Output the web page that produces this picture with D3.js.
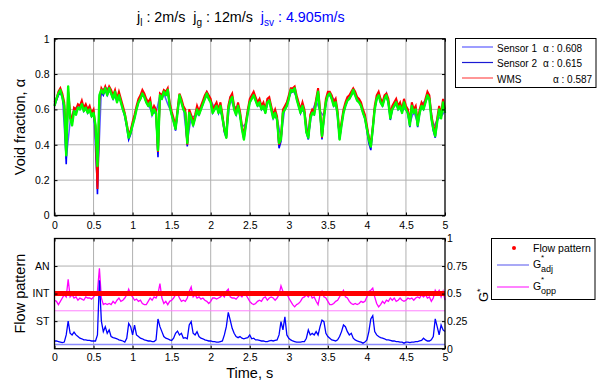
<!DOCTYPE html>
<html lang="en">
<head>
<meta charset="utf-8">
<script src="https://d3js.org/d3.v7.min.js"></script>
<style>
  body { margin: 0; background: #fff; }
  svg { display: block; font-family: "Liberation Sans", Arial, sans-serif; }
  .grid line { stroke: #b0b0b0; stroke-width: 1; }
  .axis path { display: none; }
  .axis line { stroke: #000; }
  .axis text { font-size: 10.5px; fill: #000; font-family: "Liberation Sans", Arial, sans-serif; }
</style>
</head>
<body>
<svg width="597" height="383"></svg>
<script>
// ---- data ----
const timeTicks = [0, 0.5, 1, 1.5, 2, 2.5, 3, 3.5, 4, 4.5, 5];
const voidTicks = [0, 0.2, 0.4, 0.6, 0.8, 1];
const gTicks = [0, 0.25, 0.5, 0.75, 1];
const patternNames = ["ST", "INT", "AN"];
const patternLevels = [0.25, 0.5, 0.75];

const dtFast = 0.025;   // s, sampling step of the dense traces
const dtSlow = 0.05;    // s, sampling step of sensor 1 trace

// void fraction traces
const sensor1 = [
  0.63, 0.69, 0.68, 0.32, 0.53, 0.60, 0.62, 0.61, 0.61, 0.59,
  0.59, 0.16, 0.71, 0.72, 0.72, 0.67, 0.66, 0.65, 0.57, 0.45,
  0.52, 0.61, 0.67, 0.68, 0.63, 0.58, 0.58, 0.68, 0.69, 0.63,
  0.58, 0.49, 0.68, 0.61, 0.41, 0.56, 0.56, 0.58, 0.64, 0.70,
  0.65, 0.61, 0.60, 0.56, 0.45, 0.66, 0.61, 0.62, 0.50, 0.52,
  0.65, 0.69, 0.63, 0.61, 0.59, 0.66, 0.56, 0.55, 0.44, 0.61,
  0.67, 0.71, 0.67, 0.59, 0.59, 0.45, 0.59, 0.65, 0.59, 0.56,
  0.69, 0.67, 0.65, 0.44, 0.59, 0.66, 0.69, 0.69, 0.65, 0.59,
  0.50, 0.40, 0.61, 0.69, 0.63, 0.69, 0.56, 0.63, 0.61, 0.59,
  0.61, 0.52, 0.59, 0.52, 0.63, 0.65, 0.67, 0.50, 0.54, 0.56,
  0.59
];
const sensor2 = [
  0.62, 0.65, 0.68, 0.70, 0.67, 0.61, 0.29, 0.68, 0.56, 0.52,
  0.60, 0.58, 0.61, 0.60, 0.63, 0.59, 0.61, 0.58, 0.60, 0.56,
  0.58, 0.48, 0.12, 0.65, 0.70, 0.68, 0.71, 0.68, 0.71, 0.69,
  0.66, 0.69, 0.64, 0.68, 0.64, 0.60, 0.56, 0.50, 0.43, 0.46,
  0.51, 0.55, 0.60, 0.64, 0.66, 0.69, 0.67, 0.64, 0.62, 0.64,
  0.57, 0.60, 0.57, 0.33, 0.68, 0.66, 0.69, 0.68, 0.70, 0.62,
  0.57, 0.53, 0.48, 0.58, 0.67, 0.64, 0.60, 0.58, 0.39, 0.58,
  0.55, 0.51, 0.55, 0.60, 0.57, 0.60, 0.63, 0.66, 0.68, 0.66,
  0.64, 0.58, 0.60, 0.62, 0.58, 0.62, 0.55, 0.47, 0.44, 0.60,
  0.65, 0.67, 0.60, 0.57, 0.62, 0.57, 0.49, 0.43, 0.51, 0.58,
  0.64, 0.66, 0.68, 0.65, 0.62, 0.64, 0.60, 0.62, 0.58, 0.64,
  0.65, 0.60, 0.55, 0.58, 0.54, 0.38, 0.42, 0.58, 0.60, 0.62,
  0.66, 0.70, 0.70, 0.71, 0.66, 0.62, 0.58, 0.62, 0.58, 0.47,
  0.43, 0.55, 0.58, 0.57, 0.64, 0.70, 0.58, 0.43, 0.55, 0.64,
  0.68, 0.68, 0.66, 0.62, 0.64, 0.57, 0.43, 0.51, 0.58, 0.62,
  0.65, 0.66, 0.68, 0.70, 0.68, 0.65, 0.64, 0.62, 0.58, 0.55,
  0.48, 0.41, 0.37, 0.48, 0.60, 0.66, 0.68, 0.64, 0.62, 0.66,
  0.67, 0.64, 0.54, 0.60, 0.62, 0.64, 0.60, 0.62, 0.58, 0.64,
  0.60, 0.58, 0.50, 0.62, 0.58, 0.60, 0.50, 0.58, 0.62, 0.60,
  0.64, 0.68, 0.66, 0.55, 0.48, 0.44, 0.53, 0.60, 0.55, 0.64,
  0.58
];
const wms = [
  0.64, 0.66, 0.70, 0.72, 0.69, 0.64, 0.40, 0.70, 0.58, 0.53,
  0.61, 0.60, 0.63, 0.62, 0.65, 0.61, 0.63, 0.60, 0.62, 0.58,
  0.60, 0.50, 0.15, 0.66, 0.72, 0.70, 0.73, 0.70, 0.73, 0.71,
  0.68, 0.71, 0.66, 0.70, 0.66, 0.62, 0.58, 0.52, 0.46, 0.48,
  0.53, 0.57, 0.62, 0.66, 0.68, 0.71, 0.69, 0.66, 0.64, 0.66,
  0.59, 0.62, 0.60, 0.36, 0.69, 0.68, 0.71, 0.70, 0.72, 0.64,
  0.59, 0.55, 0.50, 0.60, 0.69, 0.66, 0.62, 0.60, 0.40, 0.60,
  0.57, 0.53, 0.57, 0.62, 0.59, 0.62, 0.65, 0.68, 0.70, 0.68,
  0.66, 0.60, 0.62, 0.64, 0.60, 0.64, 0.57, 0.48, 0.46, 0.62,
  0.67, 0.69, 0.62, 0.59, 0.64, 0.59, 0.51, 0.45, 0.53, 0.60,
  0.66, 0.68, 0.70, 0.67, 0.64, 0.66, 0.62, 0.64, 0.60, 0.66,
  0.67, 0.62, 0.57, 0.60, 0.56, 0.40, 0.44, 0.60, 0.62, 0.64,
  0.68, 0.72, 0.72, 0.73, 0.68, 0.64, 0.60, 0.64, 0.60, 0.49,
  0.45, 0.57, 0.60, 0.59, 0.66, 0.72, 0.60, 0.44, 0.57, 0.66,
  0.70, 0.70, 0.68, 0.64, 0.66, 0.59, 0.45, 0.53, 0.60, 0.64,
  0.67, 0.68, 0.70, 0.72, 0.70, 0.67, 0.66, 0.64, 0.60, 0.57,
  0.51, 0.44, 0.41, 0.50, 0.62, 0.68, 0.70, 0.66, 0.64, 0.68,
  0.69, 0.66, 0.57, 0.62, 0.64, 0.66, 0.62, 0.64, 0.60, 0.66,
  0.62, 0.60, 0.53, 0.64, 0.60, 0.62, 0.53, 0.60, 0.64, 0.62,
  0.66, 0.70, 0.68, 0.57, 0.51, 0.47, 0.55, 0.62, 0.57, 0.66,
  0.60
];
const greenTrace = [
  0.62, 0.66, 0.69, 0.71, 0.67, 0.62, 0.34, 0.73, 0.55, 0.51,
  0.59, 0.57, 0.61, 0.60, 0.63, 0.59, 0.61, 0.58, 0.60, 0.56,
  0.58, 0.51, 0.28, 0.68, 0.71, 0.69, 0.72, 0.68, 0.72, 0.69,
  0.66, 0.70, 0.64, 0.68, 0.64, 0.60, 0.57, 0.51, 0.44, 0.47,
  0.51, 0.55, 0.60, 0.64, 0.66, 0.69, 0.67, 0.64, 0.62, 0.64,
  0.57, 0.60, 0.58, 0.37, 0.68, 0.66, 0.70, 0.68, 0.71, 0.62,
  0.57, 0.53, 0.49, 0.58, 0.68, 0.64, 0.60, 0.58, 0.41, 0.58,
  0.55, 0.51, 0.55, 0.60, 0.57, 0.60, 0.63, 0.66, 0.69, 0.66,
  0.64, 0.58, 0.60, 0.62, 0.58, 0.62, 0.55, 0.49, 0.44, 0.60,
  0.65, 0.67, 0.60, 0.57, 0.62, 0.57, 0.49, 0.43, 0.51, 0.58,
  0.64, 0.66, 0.68, 0.65, 0.62, 0.64, 0.60, 0.62, 0.58, 0.64,
  0.65, 0.60, 0.55, 0.58, 0.54, 0.41, 0.43, 0.58, 0.60, 0.62,
  0.66, 0.71, 0.70, 0.72, 0.66, 0.62, 0.58, 0.62, 0.58, 0.47,
  0.44, 0.55, 0.58, 0.57, 0.64, 0.70, 0.58, 0.45, 0.55, 0.64,
  0.68, 0.69, 0.66, 0.62, 0.64, 0.57, 0.43, 0.51, 0.58, 0.62,
  0.65, 0.66, 0.68, 0.71, 0.68, 0.65, 0.64, 0.62, 0.58, 0.55,
  0.49, 0.43, 0.39, 0.49, 0.60, 0.66, 0.68, 0.64, 0.62, 0.66,
  0.68, 0.64, 0.55, 0.60, 0.62, 0.64, 0.60, 0.62, 0.58, 0.64,
  0.60, 0.58, 0.51, 0.62, 0.58, 0.60, 0.51, 0.58, 0.62, 0.60,
  0.64, 0.68, 0.66, 0.55, 0.49, 0.45, 0.53, 0.60, 0.55, 0.64,
  0.58
];

// G* traces (bottom panel)
const gAdj = [
  0.07, 0.07, 0.065, 0.06, 0.055, 0.06, 0.125, 0.25, 0.14, 0.125,
  0.15, 0.125, 0.11, 0.095, 0.09, 0.08, 0.08, 0.075, 0.075, 0.07,
  0.07, 0.07, 0.125, 0.62, 0.25, 0.155, 0.20, 0.14, 0.17, 0.11,
  0.10, 0.095, 0.09, 0.08, 0.075, 0.07, 0.06, 0.095, 0.23, 0.20,
  0.125, 0.215, 0.125, 0.11, 0.095, 0.09, 0.08, 0.075, 0.07, 0.07,
  0.065, 0.065, 0.08, 0.27, 0.20, 0.155, 0.11, 0.095, 0.09, 0.08,
  0.075, 0.095, 0.14, 0.16, 0.125, 0.14, 0.095, 0.10, 0.09, 0.215,
  0.245, 0.14, 0.125, 0.155, 0.11, 0.095, 0.09, 0.08, 0.075, 0.07,
  0.07, 0.065, 0.065, 0.06, 0.06, 0.065, 0.07, 0.125, 0.20, 0.33,
  0.26, 0.185, 0.14, 0.11, 0.10, 0.11, 0.095, 0.09, 0.095, 0.10,
  0.125, 0.09, 0.095, 0.08, 0.08, 0.075, 0.07, 0.07, 0.065, 0.065,
  0.07, 0.075, 0.07, 0.075, 0.08, 0.125, 0.245, 0.17, 0.29, 0.125,
  0.095, 0.08, 0.07, 0.065, 0.06, 0.06, 0.06, 0.065, 0.065, 0.095,
  0.17, 0.125, 0.14, 0.125, 0.155, 0.125, 0.20, 0.26, 0.245, 0.14,
  0.11, 0.095, 0.08, 0.075, 0.07, 0.08, 0.11, 0.155, 0.215, 0.20,
  0.155, 0.125, 0.14, 0.095, 0.08, 0.07, 0.065, 0.06, 0.05, 0.06,
  0.08, 0.155, 0.27, 0.30, 0.155, 0.125, 0.11, 0.10, 0.095, 0.09,
  0.08, 0.08, 0.075, 0.07, 0.07, 0.065, 0.065, 0.06, 0.06, 0.05,
  0.06, 0.06, 0.055, 0.06, 0.06, 0.065, 0.065, 0.07, 0.075, 0.095,
  0.08, 0.07, 0.07, 0.08, 0.11, 0.27, 0.20, 0.125, 0.215, 0.17,
  0.155
];
const gOpp = [
  0.44, 0.43, 0.40, 0.43, 0.46, 0.49, 0.47, 0.63, 0.47, 0.49,
  0.46, 0.47, 0.44, 0.46, 0.45, 0.44, 0.47, 0.46, 0.46, 0.45,
  0.47, 0.49, 0.52, 0.73, 0.46, 0.40, 0.41, 0.40, 0.41, 0.40,
  0.43, 0.41, 0.44, 0.46, 0.43, 0.44, 0.46, 0.49, 0.54, 0.49,
  0.47, 0.44, 0.45, 0.43, 0.44, 0.41, 0.40, 0.40, 0.43, 0.46,
  0.44, 0.47, 0.46, 0.50, 0.59, 0.46, 0.41, 0.43, 0.40, 0.43,
  0.44, 0.46, 0.49, 0.50, 0.46, 0.43, 0.44, 0.43, 0.46, 0.52,
  0.56, 0.47, 0.49, 0.46, 0.47, 0.45, 0.46, 0.44, 0.43, 0.41,
  0.43, 0.46, 0.46, 0.45, 0.46, 0.47, 0.49, 0.47, 0.52, 0.54,
  0.47, 0.46, 0.46, 0.45, 0.47, 0.49, 0.47, 0.50, 0.49, 0.46,
  0.43, 0.41, 0.40, 0.41, 0.43, 0.44, 0.43, 0.46, 0.47, 0.44,
  0.46, 0.47, 0.46, 0.44, 0.46, 0.49, 0.57, 0.52, 0.49, 0.50,
  0.46, 0.43, 0.40, 0.38, 0.40, 0.41, 0.43, 0.46, 0.47, 0.49,
  0.47, 0.50, 0.46, 0.47, 0.43, 0.40, 0.49, 0.52, 0.47, 0.46,
  0.43, 0.40, 0.40, 0.41, 0.43, 0.44, 0.47, 0.50, 0.53, 0.47,
  0.46, 0.43, 0.41, 0.40, 0.41, 0.40, 0.41, 0.43, 0.42, 0.43,
  0.47, 0.52, 0.53, 0.55, 0.47, 0.41, 0.38, 0.40, 0.43, 0.41,
  0.44, 0.43, 0.46, 0.44, 0.46, 0.43, 0.44, 0.46, 0.44, 0.43,
  0.44, 0.46, 0.45, 0.46, 0.44, 0.46, 0.47, 0.46, 0.49, 0.47,
  0.49, 0.46, 0.47, 0.43, 0.46, 0.53, 0.50, 0.53, 0.47, 0.52,
  0.44
];
const thresholdOpp = 0.344;
const thresholdAdj = 0.037;
const flowPattern = [{ from: 0, to: 5, pattern: "INT" }];

const legendTop = [
  { name: "Sensor 1", alpha: "\u03b1 : 0.608", color: "#5c5cff" },
  { name: "Sensor 2", alpha: "\u03b1 : 0.615", color: "#1a1ad4" },
  { name: "WMS", alpha: "\u03b1 : 0.587", color: "#ff5050" }
];

// ---- layout ----
const svg = d3.select("svg");
const left = 54.5, right = 445;
const top1 = 38.7, bottom1 = 215.5;
const top2 = 238.5, bottom2 = 348.7;

const x = d3.scaleLinear().domain([0, 5]).range([left, right]);
const y1 = d3.scaleLinear().domain([0, 1]).range([bottom1, top1]);
const y2 = d3.scaleLinear().domain([0, 1]).range([bottom2, top2]);
const patternScale = d3.scaleOrdinal().domain(patternNames).range(patternLevels);
const fmt = d3.format("~g");

function grid(yScale, yVals, top, bottom) {
  const g = svg.append("g").attr("class", "grid");
  g.selectAll(".v").data(timeTicks.slice(1, -1)).enter().append("line")
    .attr("x1", d => x(d)).attr("x2", d => x(d))
    .attr("y1", top).attr("y2", bottom);
  g.selectAll(".h").data(yVals).enter().append("line")
    .attr("x1", left).attr("x2", right)
    .attr("y1", d => yScale(d)).attr("y2", d => yScale(d));
}

function frame(top, bottom) {
  svg.append("rect")
    .attr("x", left).attr("y", top)
    .attr("width", right - left).attr("height", bottom - top)
    .attr("fill", "none").attr("stroke", "#000").attr("stroke-width", 1.3);
}

// ---- top panel ----
grid(y1, [0.2, 0.4, 0.6, 0.8], top1, bottom1);

const traceLine = (dt, yScale) => d3.line()
  .x((d, i) => x(i * dt))
  .y(d => yScale(d));

svg.append("path").datum(sensor1)
  .attr("d", traceLine(dtSlow, y1))
  .attr("fill", "none").attr("stroke", "#5c5cff").attr("stroke-width", 1.5);
svg.append("path").datum(sensor2)
  .attr("d", traceLine(dtFast, y1))
  .attr("fill", "none").attr("stroke", "#0000ff").attr("stroke-width", 1.6);
svg.append("path").datum(wms)
  .attr("d", traceLine(dtFast, y1))
  .attr("fill", "none").attr("stroke", "#ff0000").attr("stroke-width", 2);
svg.append("path").datum(greenTrace)
  .attr("d", traceLine(dtFast, y1))
  .attr("fill", "none").attr("stroke", "#00ff00").attr("stroke-width", 2.4)
  .attr("stroke-linejoin", "round");

svg.append("g").attr("class", "axis")
  .attr("transform", `translate(0,${bottom1})`)
  .call(d3.axisBottom(x).tickValues(timeTicks).tickSizeInner(-3).tickSizeOuter(0)
    .tickPadding(6).tickFormat(fmt));
svg.append("g").attr("class", "axis")
  .attr("transform", `translate(0,${top1})`)
  .call(d3.axisTop(x).tickValues(timeTicks).tickSizeInner(-3).tickSizeOuter(0).tickFormat(""));
svg.append("g").attr("class", "axis")
  .attr("transform", `translate(${left},0)`)
  .call(d3.axisLeft(y1).tickValues(voidTicks).tickSizeInner(-3).tickSizeOuter(0)
    .tickPadding(5).tickFormat(fmt));
svg.append("g").attr("class", "axis")
  .attr("transform", `translate(${right},0)`)
  .call(d3.axisRight(y1).tickValues(voidTicks).tickSizeInner(-3).tickSizeOuter(0).tickFormat(""));
frame(top1, bottom1);

svg.append("text")
  .attr("transform", `translate(25,${(top1 + bottom1) / 2}) rotate(-90)`)
  .attr("text-anchor", "middle")
  .style("font-size", "14.5px")
  .text("Void fraction, \u03b1");

// title
const title = svg.append("text").attr("x", 137).attr("y", 22)
  .style("font-size", "14.3px").style("white-space", "pre");
const titleParts = [
  { base: "j", sub: "l", rest: " : 2m/s  ", color: "#000" },
  { base: "j", sub: "g", rest: " : 12m/s  ", color: "#000" },
  { base: "j", sub: "sv", rest: " : 4.905m/s", color: "#0000ff" }
];
titleParts.forEach(p => {
  title.append("tspan").attr("fill", p.color).text(p.base);
  title.append("tspan").attr("fill", p.color).attr("dy", 4).style("font-size", "10px").text(p.sub);
  title.append("tspan").attr("fill", p.color).attr("dy", -4).text(p.rest);
});

// top legend
const lg1 = svg.append("g");
lg1.append("rect").attr("x", 455.5).attr("y", 38.5).attr("width", 140.5).attr("height", 49)
  .attr("fill", "#fff").attr("stroke", "#000");
legendTop.forEach((d, i) => {
  const yy = 47 + i * 15.5;
  lg1.append("line").attr("x1", 462).attr("x2", 493).attr("y1", yy).attr("y2", yy)
    .attr("stroke", d.color).attr("stroke-width", 1.2);
  lg1.append("text").attr("x", 497).attr("y", yy + 4.5).style("font-size", "10px").text(d.name);
  lg1.append("text").attr("x", i < 2 ? 543 : 553).attr("y", yy + 4.5).style("font-size", "10px").text(d.alpha);
});

// ---- bottom panel ----
grid(y2, patternLevels, top2, bottom2);

svg.append("line").attr("x1", left).attr("x2", right)
  .attr("y1", y2(thresholdOpp)).attr("y2", y2(thresholdOpp))
  .attr("stroke", "#ff80ff").attr("stroke-width", 1);
svg.append("line").attr("x1", left).attr("x2", right)
  .attr("y1", y2(thresholdAdj)).attr("y2", y2(thresholdAdj))
  .attr("stroke", "#8c8cff").attr("stroke-width", 1.5);

svg.append("path").datum(gOpp)
  .attr("d", traceLine(dtFast, y2))
  .attr("fill", "none").attr("stroke", "#ff00ff").attr("stroke-width", 1.3);
svg.append("path").datum(gAdj)
  .attr("d", traceLine(dtFast, y2))
  .attr("fill", "none").attr("stroke", "#0000ff").attr("stroke-width", 1.3);

svg.selectAll(".flow").data(flowPattern).enter().append("line")
  .attr("x1", d => x(d.from)).attr("x2", d => x(d.to))
  .attr("y1", d => y2(patternScale(d.pattern))).attr("y2", d => y2(patternScale(d.pattern)))
  .attr("stroke", "#ff0000").attr("stroke-width", 5);

svg.append("g").attr("class", "axis")
  .attr("transform", `translate(0,${bottom2})`)
  .call(d3.axisBottom(x).tickValues(timeTicks).tickSizeInner(-3).tickSizeOuter(0)
    .tickPadding(4.5).tickFormat(fmt));
svg.append("g").attr("class", "axis")
  .attr("transform", `translate(0,${top2})`)
  .call(d3.axisTop(x).tickValues(timeTicks).tickSizeInner(-3).tickSizeOuter(0).tickFormat(""));
svg.append("g").attr("class", "axis")
  .attr("transform", `translate(${left},0)`)
  .call(d3.axisLeft(y2).tickValues(patternLevels).tickSizeInner(-3).tickSizeOuter(0)
    .tickPadding(5).tickFormat((d, i) => patternNames[i]));
svg.append("g").attr("class", "axis")
  .attr("transform", `translate(${right},0)`)
  .call(d3.axisRight(y2).tickValues(gTicks).tickSizeInner(-3).tickSizeOuter(0)
    .tickPadding(2).tickFormat(fmt));
frame(top2, bottom2);

svg.append("text")
  .attr("transform", `translate(25,${(top2 + bottom2) / 2}) rotate(-90)`)
  .attr("text-anchor", "middle")
  .style("font-size", "14.5px")
  .text("Flow pattern");

svg.append("text")
  .attr("x", (left + right) / 2).attr("y", 378)
  .attr("text-anchor", "middle")
  .style("font-size", "14.5px")
  .text("Time, s");

const gLabel = svg.append("text")
  .attr("transform", "translate(488,302) rotate(-90)")
  .style("font-size", "13px");
gLabel.append("tspan").text("G");
gLabel.append("tspan").attr("dy", -5).style("font-size", "9px").text("*");

// bottom legend
const lg2 = svg.append("g");
lg2.append("rect").attr("x", 491.5).attr("y", 238.5).attr("width", 103.5).attr("height", 61)
  .attr("fill", "#fff").attr("stroke", "#000");
lg2.append("circle").attr("cx", 514).attr("cy", 248).attr("r", 2).attr("fill", "#ff0000");
lg2.append("text").attr("x", 533).attr("y", 252).style("font-size", "10.5px").text("Flow pattern");
[
  { sub: "adj", color: "#7070f0", yy: 265 },
  { sub: "opp", color: "#ff30ff", yy: 287 }
].forEach(d => {
  lg2.append("line").attr("x1", 497).attr("x2", 529).attr("y1", d.yy).attr("y2", d.yy)
    .attr("stroke", d.color).attr("stroke-width", 1.2);
  lg2.append("text").attr("x", 533).attr("y", d.yy + 3).style("font-size", "10.5px").text("G");
  lg2.append("text").attr("x", 541).attr("y", d.yy - 5).style("font-size", "8px").text("*");
  lg2.append("text").attr("x", 541).attr("y", d.yy + 7).style("font-size", "9px").text(d.sub);
});
</script>
</body>
</html>
